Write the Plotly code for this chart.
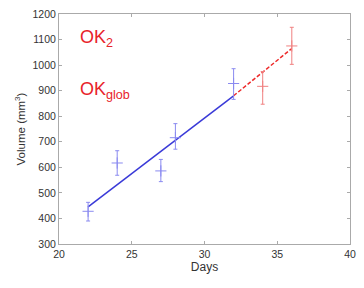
import plotly.graph_objects as go

# data
days_blue = [22, 24, 27, 28, 32]
vol_blue = [428, 617, 586, 716, 928]
err_up_blue = [35, 48, 45, 55, 58]
err_dn_blue = [38, 48, 42, 45, 62]

days_red = [34, 36]
vol_red = [917, 1075]
err_up_red = [58, 73]
err_dn_red = [70, 72]

fit_x = [22, 32]
fit_y = [445, 880]
ext_x = [32, 36]
ext_y = [880, 1065]

fig = go.Figure()
fig.add_trace(go.Scatter(x=fit_x, y=fit_y, mode="lines",
                         line=dict(color="#3a3ad8", width=1.5), showlegend=False))
fig.add_trace(go.Scatter(x=ext_x, y=ext_y, mode="lines",
                         line=dict(color="#ee2a2a", width=1.5, dash="4px,2px"), showlegend=False))
fig.add_trace(go.Scatter(x=days_blue, y=vol_blue, mode="markers",
                         marker=dict(symbol="cross-thin", size=8, line=dict(color="#8a8af0", width=1)),
                         error_y=dict(type="data", array=err_up_blue, arrayminus=err_dn_blue,
                                      color="#8a8af0", thickness=1, width=2),
                         showlegend=False))
fig.add_trace(go.Scatter(x=days_red, y=vol_red, mode="markers",
                         marker=dict(symbol="cross-thin", size=8, line=dict(color="#f08080", width=1)),
                         error_y=dict(type="data", array=err_up_red, arrayminus=err_dn_red,
                                      color="#f08080", thickness=1, width=2),
                         showlegend=False))

fig.add_annotation(x=21.3, y=1104, text="OK<sub>2</sub>", showarrow=False, xanchor="left",
                   font=dict(color="#e8232a", size=18, family="Liberation Sans, Arial"))
fig.add_annotation(x=21.3, y=900, text="OK<sub>glob</sub>", showarrow=False, xanchor="left",
                   font=dict(color="#e8232a", size=18, family="Liberation Sans, Arial"))

axis_common = dict(showgrid=False, zeroline=False, showline=True, linecolor="#aaaaaa",
                   linewidth=1, mirror="ticks", ticks="inside", ticklen=3,
                   tickcolor="#aaaaaa", tickfont=dict(size=10.5, color="#333333"))
fig.update_xaxes(range=[20, 40], tickvals=[20, 25, 30, 35, 40],
                 title=dict(text="Days", font=dict(size=12, color="#333333"), standoff=4),
                 **axis_common)
fig.update_yaxes(range=[300, 1200], tickvals=list(range(300, 1201, 100)),
                 title=dict(text="Volume (mm<sup>3</sup>)", font=dict(size=11.5, color="#333333"), standoff=4),
                 **axis_common)
fig.update_layout(width=364, height=288, margin=dict(l=59, r=8, t=10, b=44),
                  plot_bgcolor="white", paper_bgcolor="white",
                  font=dict(family="Liberation Sans, Arial", color="#333333"))
fig.write_html("out.html", config={"displayModeBar": False},
               post_script="document.body.style.margin='0';")
